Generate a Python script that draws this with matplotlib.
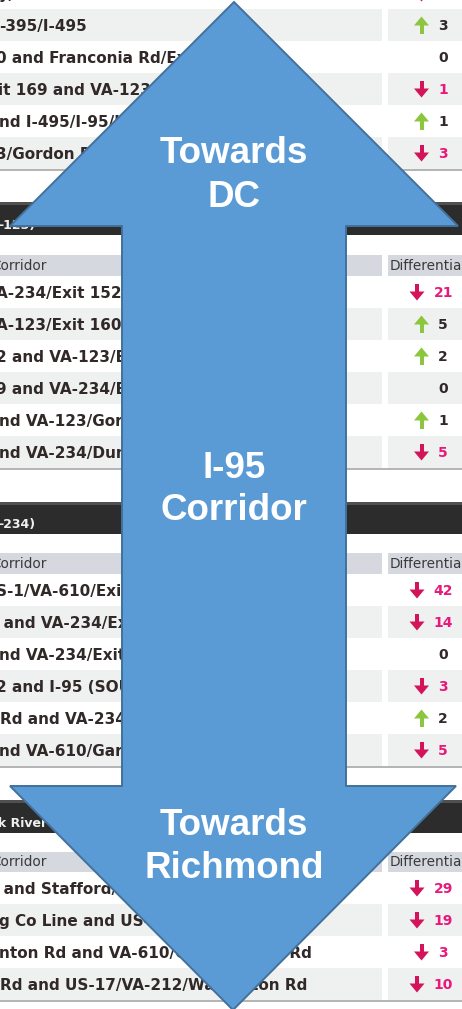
import matplotlib
matplotlib.use("Agg")
import matplotlib.pyplot as plt
from matplotlib.patches import Rectangle, Polygon

# ---------------- data ----------------
sec1_labels = ["y, Exit 166", "-395/I-495", "0 and Franconia Rd/Exit 1",
               "it 169 and VA-123/Exit", "nd I-495/I-95/I-395", "3/Gordon Blvd/Exit"]
sec1_diffs = [-1, 3, 0, -1, 1, -3]

sec2_title = "-123)"
sec2_labels = ["A-234/Exit 152 and", "A-123/Exit 160 and", "2 and VA-123/Exit 160",
               "9 and VA-234/Exit 152", "nd VA-123/Gordon Blvd", "nd VA-234/Dumfries Rd"]
sec2_diffs = [-21, 5, 2, 0, 1, -5]

sec3_title = "-234)"
sec3_labels = ["S-1/VA-610/Exit 143", "e and VA-234/Exit 152", "nd VA-234/Exit 152",
               "2 and I-95 (SOUTH)", "Rd and VA-234/Exit", "nd VA-610/Garrisonville"]
sec3_diffs = [-42, -14, 0, -3, 2, -5]

sec4_title = "k River"
sec4_labels = ["e and Stafford/Falmouth", "g Co Line and US-17/VA",
               "nton Rd and VA-610/Garrisonville Rd", "Rd and US-17/VA-212/Warrenton Rd"]
sec4_diffs = [-29, -19, -3, -10]

col_header = "Corridor"
diff_header = "Differential"
arrow_text = [["Towards", "DC"], ["I-95", "Corridor"], ["Towards", "Richmond"]]

# ---------------- layout / style ----------------
W, H = 462, 1009
ROW_H = 32
LEFT_END, DIFF_START = 382, 388
GRAY = "#eff0f0"
HDR = "#d5d8de"
TXT = "#312828"
GREEN = "#8cc63e"
PINK_ARROW = "#d3145a"
PINK_TXT = "#e8197a"
BAR = "#2c2c2c"

sec1_x = [-1, -1, -3.5, -2, -1, -3.5]
sec2_x = [-4, -4, -4, -4, -1, -1]
sec3_x = [-4, -11.5, -1, -4, 0, -1]
sec4_x = [-11.5, -1, -1, 0]

fig = plt.figure(figsize=(W / 100, H / 100), dpi=100)
ax = fig.add_axes([0, 0, 1, 1])
ax.set_xlim(0, W)
ax.set_ylim(H, 0)
ax.axis("off")
fig.patch.set_facecolor("white")


def diff_cell(v, cy):
    nd = len(str(abs(v)))
    num_left = 438 if nd == 1 else 433.5
    if v == 0:
        ax.text(num_left, cy + 5, "0", fontsize=10, fontweight="bold",
                color=TXT, ha="left", va="baseline", zorder=3)
        return
    acx = num_left - 16.5
    if v > 0:
        col = GREEN
        head = [(acx - 7.5, cy + 0.5), (acx + 7.5, cy + 0.5), (acx, cy - 8.5)]
        shaft = Rectangle((acx - 2, cy), 4, 8.5, color=col, lw=0, zorder=3)
        tcol = TXT
    else:
        col = PINK_ARROW
        head = [(acx - 7.5, cy - 0.5), (acx + 7.5, cy - 0.5), (acx, cy + 8.5)]
        shaft = Rectangle((acx - 2, cy - 8.5), 4, 8.5, color=col, lw=0, zorder=3)
        tcol = PINK_TXT
    ax.add_patch(Polygon(head, closed=True, color=col, lw=0, zorder=3))
    ax.add_patch(shaft)
    ax.text(num_left, cy + 5, str(abs(v)), fontsize=10, fontweight="bold",
            color=tcol, ha="left", va="baseline", zorder=3)


def rows(top, labels, diffs, xs, first_gray):
    for i, (lab, v, x0) in enumerate(zip(labels, diffs, xs)):
        y0 = top + i * ROW_H
        gray = (i % 2 == 0) == first_gray
        if gray:
            ax.add_patch(Rectangle((-5, y0), LEFT_END + 5, ROW_H, color=GRAY, lw=0, zorder=1))
            ax.add_patch(Rectangle((DIFF_START, y0), W - DIFF_START + 5, ROW_H, color=GRAY, lw=0, zorder=1))
        cy = y0 + ROW_H / 2
        ax.text(x0, cy + 6, lab, fontsize=11, fontweight="bold", color=TXT,
                ha="left", va="baseline", zorder=2)
        diff_cell(v, cy)
    bottom = top + len(labels) * ROW_H
    ax.add_patch(Rectangle((-5, bottom - 0.5), W + 10, 2, color="#b5b5b5", lw=0, zorder=1))


def bar_and_header(bar_top, bar_bot, title, hdr_top, hdr_bot):
    ax.add_patch(Rectangle((-5, bar_top), W + 10, bar_bot - bar_top, color=BAR, lw=0, zorder=1))
    ax.add_patch(Rectangle((-5, bar_top), W + 10, 3, color="#505050", lw=0, zorder=1))
    ax.text(-2, bar_bot - 6, title, fontsize=9, fontweight="bold", color="#f0f0f0",
            ha="left", va="baseline", zorder=2)
    ax.add_patch(Rectangle((-5, hdr_top), LEFT_END + 5, hdr_bot - hdr_top, color=HDR, lw=0, zorder=1))
    ax.add_patch(Rectangle((DIFF_START, hdr_top), W - DIFF_START + 5, hdr_bot - hdr_top, color=HDR, lw=0, zorder=1))
    cy = (hdr_top + hdr_bot) / 2
    ax.text(-9, cy + 4.5, col_header, fontsize=9.8, color="#3a3a3a", ha="left", va="baseline", zorder=2)
    ax.text(DIFF_START + 2, cy + 4.5, diff_header, fontsize=9.8, color="#3a3a3a",
            ha="left", va="baseline", zorder=2)


# Section 1 (top, partially visible)
rows(9 - ROW_H, sec1_labels, sec1_diffs, sec1_x, first_gray=False)

# Section 2
bar_and_header(202, 235, sec2_title, 255, 276)
rows(276, sec2_labels, sec2_diffs, sec2_x, first_gray=False)

# Section 3
bar_and_header(502, 534, sec3_title, 553, 574)
rows(574, sec3_labels, sec3_diffs, sec3_x, first_gray=False)

# Section 4
bar_and_header(800, 833, sec4_title, 852, 872)
rows(872, sec4_labels, sec4_diffs, sec4_x, first_gray=False)

# Big double-headed arrow overlay
cx = 234
arrow = [(cx, 2), (458, 226), (346, 226), (346, 786), (456, 786), (cx - 1, 1010),
         (10, 786), (122, 786), (122, 226), (10, 226)]
ax.add_patch(Polygon(arrow, closed=True, facecolor="#5b9bd5", edgecolor="#41719c",
                     lw=1.4, joinstyle="miter", zorder=10))

baselines = [(163, 207), (478, 520), (835, 878)]
for (l1, l2), (b1, b2) in zip(arrow_text, baselines):
    for s, b in ((l1, b1), (l2, b2)):
        ax.text(cx, b, s, fontsize=26.5, fontweight="bold", color="white",
                family="Liberation Sans", ha="center", va="baseline", zorder=11)

fig.savefig("out.png", dpi=100, facecolor="white")
